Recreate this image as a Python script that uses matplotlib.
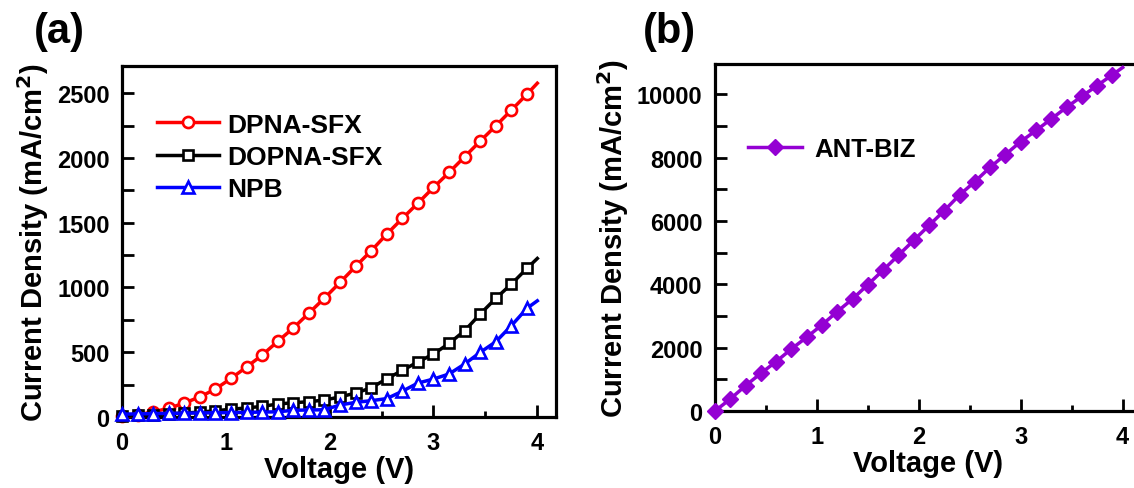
import numpy as np
import matplotlib
matplotlib.use("Agg")
import matplotlib.pyplot as plt
from matplotlib.ticker import MultipleLocator, FuncFormatter

plt.rcParams['font.family'] = ['Liberation Sans', 'DejaVu Sans']
plt.rcParams['font.weight'] = 'bold'
plt.rcParams['axes.labelweight'] = 'bold'

# J-V data, voltage in V, current density in mA/cm2
voltage = [0.0, 0.15, 0.3, 0.45, 0.6, 0.75, 0.9, 1.05, 1.2, 1.35, 1.5, 1.65, 1.8, 1.95,
           2.1, 2.25, 2.4, 2.55, 2.7, 2.85, 3.0, 3.15, 3.3, 3.45, 3.6, 3.75, 3.9, 4.0]

dpna_sfx = [5, 15, 40, 67, 108, 155, 216, 298, 386, 478, 584, 687, 802, 918,
            1039, 1163, 1283, 1412, 1533, 1651, 1772, 1888, 2009, 2130, 2248, 2369, 2492, 2577]
dopna_sfx = [8, 12, 18, 24, 30, 38, 48, 60, 70, 82, 100, 110, 118, 131,
             155, 185, 225, 295, 360, 425, 486, 568, 666, 795, 916, 1026, 1147, 1224]
npb = [22, 24, 26, 28, 30, 31, 33, 34, 36, 38, 40, 52, 54, 56,
       93, 113, 126, 142, 199, 262, 293, 332, 409, 499, 581, 705, 839, 897]
ant_biz = [0, 379, 800, 1190, 1560, 1960, 2330, 2720, 3140, 3540, 3990, 4450, 4920, 5390,
           5860, 6330, 6825, 7245, 7700, 8100, 8510, 8860, 9225, 9595, 9940, 10280, 10620, 10850]

# last point (4.0 V) drawn as line only
marks = list(range(len(voltage) - 1))

fig = plt.figure(figsize=(11.34, 4.89), dpi=100)
ax1 = fig.add_axes([0.1076, 0.1452, 0.3827, 0.7178])
ax2 = fig.add_axes([0.6305, 0.1575, 0.3757, 0.7096])

lw = 2.5
ax1.plot(voltage, dpna_sfx, color='#FF0000', lw=lw, marker='o', ms=8, mfc='white',
         mew=1.9, markevery=marks, label='DPNA-SFX', clip_on=False, zorder=3)
ax1.plot(voltage, dopna_sfx, color='black', lw=lw, marker='s', ms=7.5, mfc='white',
         mew=1.9, markevery=marks, label='DOPNA-SFX', clip_on=False, zorder=4)
ax1.plot(voltage, npb, color='#0000FF', lw=lw, marker='^', ms=9, mfc='white',
         mew=1.9, markevery=marks, label='NPB', clip_on=False, zorder=5)

ax2.plot(voltage, ant_biz, color='#9400D3', lw=lw, marker='D', ms=8,
         markevery=marks, label='ANT-BIZ', clip_on=False, zorder=3)

ax1.set_xlim(0, 4.18)
ax1.set_ylim(0, 2710)
ax2.set_xlim(0, 4.18)
ax2.set_ylim(0, 10960)

ax1.yaxis.set_major_locator(MultipleLocator(250))
ax1.yaxis.set_major_formatter(FuncFormatter(lambda v, p: '%d' % v if round(v) % 500 == 0 else ''))
ax2.yaxis.set_major_locator(MultipleLocator(1000))
ax2.yaxis.set_major_formatter(FuncFormatter(lambda v, p: '%d' % v if round(v) % 2000 == 0 else ''))

for ax in (ax1, ax2):
    ax.xaxis.set_major_locator(MultipleLocator(1))
    ax.xaxis.set_minor_locator(MultipleLocator(0.5))
    ax.tick_params(axis='both', which='major', direction='in', length=8.6, width=2,
                   labelsize=17, top=False, right=False)
    ax.tick_params(axis='x', which='major', pad=10)
    ax.tick_params(axis='y', which='major', pad=9)
    ax.tick_params(axis='x', which='minor', direction='in', length=4.5, width=2, top=False)
    for sp in ax.spines.values():
        sp.set_linewidth(2.3)
    for lab in ax.get_xticklabels() + ax.get_yticklabels():
        lab.set_fontweight('bold')
    ax.set_xlabel('Voltage (V)', fontsize=21, fontweight='bold', labelpad=1)
    ax.set_ylabel('Current Density (mA/cm$^{\\mathbf{2}}$)', fontsize=21, fontweight='bold', labelpad=4)

ax1.legend(loc='center left', bbox_to_anchor=(0.0806, 0.7407), frameon=False,
           prop={'weight': 'bold', 'size': 19}, borderpad=0, borderaxespad=0,
           handlelength=2.35, handletextpad=0.3, labelspacing=0.32)
ax2.legend(loc='center left', bbox_to_anchor=(0.0775, 0.755), frameon=False,
           prop={'weight': 'bold', 'size': 18.5}, borderpad=0, borderaxespad=0,
           handlelength=2.1, handletextpad=0.5)

fig.text(0.030, 0.9346, '(a)', fontsize=30, fontweight='bold', va='center', ha='left')
fig.text(0.567, 0.9346, '(b)', fontsize=30, fontweight='bold', va='center', ha='left')

fig.savefig('out.png', dpi=100)
